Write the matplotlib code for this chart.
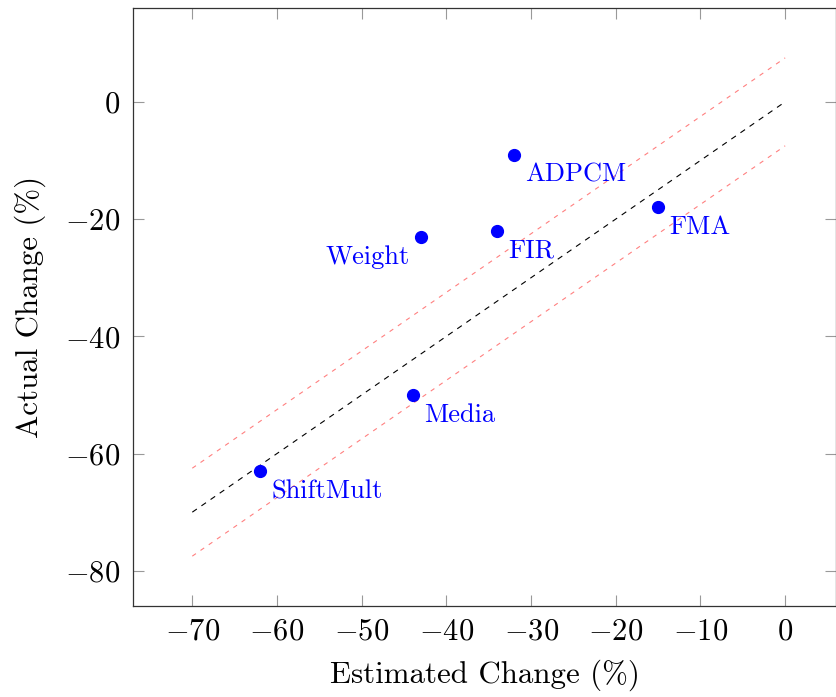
import numpy as np
import matplotlib.pyplot as plt

plt.rcParams['font.family'] = 'serif'
plt.rcParams['font.serif'] = ['cmr10']
plt.rcParams['mathtext.fontset'] = 'cm'
plt.rcParams['axes.formatter.use_mathtext'] = True

names = ["ADPCM", "FMA", "FIR", "Weight", "Media", "ShiftMult"]
estimated = [-32, -15, -34, -43, -44, -62]
actual = [-9, -18, -22, -23, -50, -63]
# which side the label goes on: 1 = right, -1 = left
side = [1, 1, 1, -1, 1, 1]

margin = 7.5
line_x = np.array([-70, 0])

fig = plt.figure(figsize=(8.37, 6.97), dpi=100)
ax = fig.add_axes([0.1589, 0.1306, 0.8399, 0.8579])

ax.plot(line_x, line_x, color="black", linestyle=(0, (5, 5)), linewidth=0.8)
ax.plot(line_x, line_x + margin, color="#ff8080", linestyle=(0, (4, 5)), linewidth=0.8)
ax.plot(line_x, line_x - margin, color="#ff8080", linestyle=(0, (4, 5)), linewidth=0.8)

ax.plot(estimated, actual, "o", color="blue", markersize=8.5, linestyle="none")

for n, x, y, s in zip(names, estimated, actual, side):
    ax.annotate(n, (x, y), xytext=(8 * s, -6), textcoords="offset points",
                ha="left" if s > 0 else "right", va="top",
                color="blue", fontsize=19)

ax.set_xlim(-77, 6)
ax.set_ylim(-86, 16)
ax.set_xticks(np.arange(-70, 1, 10))
ax.set_yticks(np.arange(-80, 1, 20))

ax.tick_params(direction="in", length=8, width=0.8, color="#999999",
               top=True, right=True, labelsize=22, pad=9)
for sp in ax.spines.values():
    sp.set_color("#333333")
    sp.set_linewidth(0.9)

ax.set_xlabel("Estimated Change (%)", fontsize=22.3, labelpad=10)
ax.set_ylabel("Actual Change (%)", fontsize=22.3, labelpad=14)

fig.savefig("out.png", dpi=100)
